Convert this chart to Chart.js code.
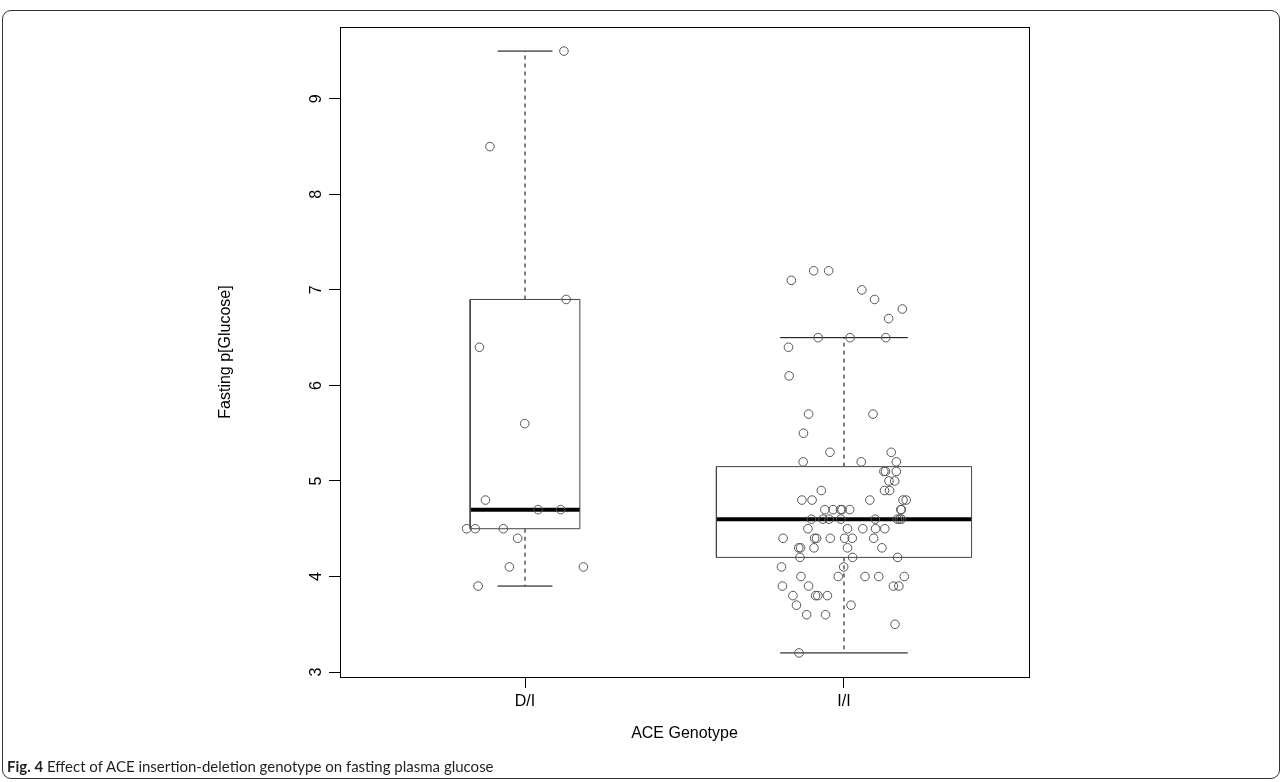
<!DOCTYPE html>
<html>
<head>
<meta charset="utf-8">
<script src="https://cdn.jsdelivr.net/npm/chart.js@4.4.1/dist/chart.umd.min.js"></script>
<style>
    html, body { margin: 0; padding: 0; background: #fff; }
    body { width: 1284px; height: 782px; position: relative; overflow: hidden; }
    #frame {
        position: absolute; left: 2px; top: 10px; width: 1278px; height: 769px;
        border: 1px solid #333; border-radius: 9px; box-sizing: border-box;
    }
    #chart { position: absolute; left: 0; top: 0; }
    #caption {
        position: absolute; left: 7px; top: 757px;
        font-family: Lato, "Open Sans", sans-serif; font-size: 15px; color: #231f20;
        white-space: nowrap;
    }
</style>
</head>
<body>
<div id="frame"></div>
<canvas id="chart" width="1284" height="782"></canvas>
<div id="caption"><b>Fig. 4</b> Effect of ACE insertion-deletion genotype on fasting plasma glucose</div>

<script>
// categories and axis ticks
const groups = ['D/I', 'I/I'];
const yTicks = [3, 4, 5, 6, 7, 8, 9];

// box statistics (one entry per group)
const whiskerLow = [3.9, 3.2];
const lowerHinge = [4.5, 4.2];
const medians = [4.7, 4.6];
const upperHinge = [6.9, 5.15];
const whiskerHigh = [9.5, 6.5];

// jittered observations, D/I
const diX = [1.122, 0.890, 1.129, 0.857, 0.999, 0.876, 1.041, 1.112, 0.817, 0.844, 0.932, 0.977, 0.951, 1.183, 0.853];
const diY = [9.5, 8.5, 6.9, 6.4, 5.6, 4.8, 4.7, 4.7, 4.5, 4.5, 4.5, 4.4, 4.1, 4.1, 3.9];

// jittered observations, I/I
const iiX = [
    1.905, 1.952, 1.835, 2.056, 2.096, 2.183, 2.140,
    1.919, 2.019, 2.131, 1.826, 1.828,
    1.889, 2.091, 1.873, 1.956, 2.148,
    1.872, 2.054, 2.164, 2.125, 2.130, 2.164,
    2.141, 2.159, 1.929, 2.127, 2.143,
    1.868, 1.900, 2.081, 2.185, 2.195,
    1.940, 1.966, 1.989, 1.994, 2.018, 2.178, 2.180,
    1.898, 1.934, 1.953, 1.990, 2.098, 2.167, 2.174, 2.180,
    1.887, 2.011, 2.059, 2.099, 2.128,
    1.809, 1.908, 1.914, 1.957, 2.002, 2.026, 2.093,
    1.858, 1.864, 1.906, 2.011, 2.119,
    1.862, 2.027, 2.168,
    1.804, 1.999,
    1.865, 1.982, 2.066, 2.109, 2.189,
    1.807, 1.889, 2.155, 2.172,
    1.840, 1.911, 1.918, 1.948,
    1.851, 2.022,
    1.883, 1.942,
    2.160,
    1.859
];
const iiY = [
    7.2, 7.2, 7.1, 7.0, 6.9, 6.8, 6.7,
    6.5, 6.5, 6.5, 6.4, 6.1,
    5.7, 5.7, 5.5, 5.3, 5.3,
    5.2, 5.2, 5.2, 5.1, 5.1, 5.1,
    5.0, 5.0, 4.9, 4.9, 4.9,
    4.8, 4.8, 4.8, 4.8, 4.8,
    4.7, 4.7, 4.7, 4.7, 4.7, 4.7, 4.7,
    4.6, 4.6, 4.6, 4.6, 4.6, 4.6, 4.6, 4.6,
    4.5, 4.5, 4.5, 4.5, 4.5,
    4.4, 4.4, 4.4, 4.4, 4.4, 4.4, 4.4,
    4.3, 4.3, 4.3, 4.3, 4.3,
    4.2, 4.2, 4.2,
    4.1, 4.1,
    4.0, 4.0, 4.0, 4.0, 4.0,
    3.9, 3.9, 3.9, 3.9,
    3.8, 3.8, 3.8, 3.8,
    3.7, 3.7,
    3.6, 3.6,
    3.5,
    3.2
];

// drawing sizes (x units)
const BOX_HALF = [0.172, 0.4];
const FONT = '"Liberation Sans", Arial, Helvetica, sans-serif';

function seg(x1, y1, x2, y2) {
    return [{ x: x1, y: y1 }, { x: x2, y: y2 }];
}

function buildBoxDatasets() {
    const out = [];
    groups.forEach((g, i) => {
        const c = i + 1;
        const h = BOX_HALF[i];
        const cap = h / 2;
        const lineBase = { type: 'scatter', showLine: true, pointRadius: 0, borderColor: '#000', borderWidth: 1, fill: false };
        // box outline
        out.push(Object.assign({}, lineBase, {
            borderColor: '#444',
            data: [
                { x: c - h, y: lowerHinge[i] }, { x: c + h, y: lowerHinge[i] },
                { x: c + h, y: upperHinge[i] }, { x: c - h, y: upperHinge[i] },
                { x: c - h, y: lowerHinge[i] }
            ]
        }));
        // whiskers (dashed)
        out.push(Object.assign({}, lineBase, { borderDash: [4, 4], data: seg(c, upperHinge[i], c, whiskerHigh[i]) }));
        out.push(Object.assign({}, lineBase, { borderDash: [4, 4], data: seg(c, lowerHinge[i], c, whiskerLow[i]) }));
        // caps
        out.push(Object.assign({}, lineBase, { data: seg(c - cap, whiskerHigh[i], c + cap, whiskerHigh[i]) }));
        out.push(Object.assign({}, lineBase, { data: seg(c - cap, whiskerLow[i], c + cap, whiskerLow[i]) }));
        // median
        out.push(Object.assign({}, lineBase, { borderWidth: 4, borderCapStyle: 'butt', data: seg(c - h, medians[i], c + h, medians[i]) }));
    });
    return out;
}

const pointStyle = {
    type: 'scatter',
    pointRadius: 4.3,
    pointBorderWidth: 1,
    borderColor: '#555',
    backgroundColor: 'rgba(0,0,0,0)',
    pointHoverRadius: 4.3
};

const frameBox = {
    id: 'frameBox',
    afterDraw(chart) {
        const { ctx, chartArea: a } = chart;
        ctx.save();
        ctx.strokeStyle = '#000';
        ctx.lineWidth = 1;
        ctx.strokeRect(Math.round(a.left) + 0.5, Math.round(a.top) + 0.5, Math.round(a.right - a.left), Math.round(a.bottom - a.top));
        ctx.restore();
    }
};

const ctx = document.getElementById('chart').getContext('2d');
new Chart(ctx, {
    type: 'scatter',
    data: {
        datasets: [
            Object.assign({}, pointStyle, { label: 'D/I', data: diX.map((x, i) => ({ x, y: diY[i] })) }),
            Object.assign({}, pointStyle, { label: 'I/I', data: iiX.map((x, i) => ({ x, y: iiY[i] })) }),
            ...buildBoxDatasets()
        ]
    },
    options: {
        responsive: false,
        animation: false,
        layout: { padding: { left: 212, right: 255, top: 27, bottom: 35 } },
        plugins: {
            legend: { display: false },
            tooltip: { enabled: false }
        },
        scales: {
            x: {
                type: 'linear',
                min: 0.42,
                max: 2.58,
                afterBuildTicks: (scale) => { scale.ticks = groups.map((_, i) => ({ value: i + 1 })); },
                afterFit: (scale) => { scale.height = 70; },
                ticks: {
                    callback: (v) => groups[v - 1],
                    color: '#000',
                    padding: 4,
                    font: { family: FONT, size: 16 }
                },
                grid: { drawOnChartArea: false, tickLength: 11, color: '#000' },
                border: { display: true, color: '#000' },
                title: {
                    display: true, text: 'ACE Genotype', color: '#000',
                    font: { family: FONT, size: 16 }, padding: { top: 4, bottom: 4 }
                }
            },
            y: {
                type: 'linear',
                min: 2.948,
                max: 9.752,
                afterBuildTicks: (scale) => { scale.ticks = yTicks.map(v => ({ value: v })); },
                afterFit: (scale) => { scale.width = 128; },
                ticks: {
                    color: '#000',
                    minRotation: 90,
                    maxRotation: 90,
                    crossAlign: 'center',
                    padding: 8,
                    font: { family: FONT, size: 16 }
                },
                grid: { drawOnChartArea: false, tickLength: 11, color: '#000' },
                border: { display: true, color: '#000' },
                title: {
                    display: true, text: 'Fasting p[Glucose]', color: '#000',
                    font: { family: FONT, size: 16 }, padding: { top: 4, bottom: 4 }
                }
            }
        }
    },
    plugins: [frameBox]
});
</script>
</body>
</html>
